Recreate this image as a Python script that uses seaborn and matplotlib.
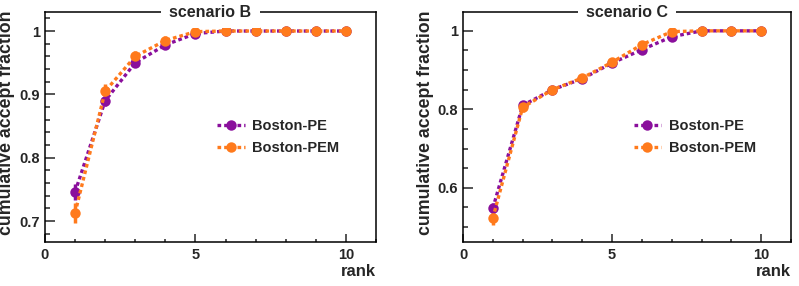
import numpy as np
import pandas as pd
import matplotlib
matplotlib.use('Agg')
import matplotlib.pyplot as plt
from matplotlib.ticker import MultipleLocator
import seaborn as sns

sns.set_style('white')
plt.rcParams['font.family'] = ['Liberation Sans', 'DejaVu Sans']
plt.rcParams['font.weight'] = 'bold'

rank = [1, 2, 3, 4, 5, 6, 7, 8, 9, 10]
series = ['Boston-PE', 'Boston-PEM']
colors = {'Boston-PE': '#8a0f9c', 'Boston-PEM': '#ff7a1c'}

# scenario B
b_pe = [0.746, 0.890, 0.950, 0.978, 0.996, 1.0, 1.0, 1.0, 1.0, 1.0]
b_pe_err = [0.013, 0.009, 0.007, 0.005, 0.003, 0, 0, 0, 0, 0]
b_pem = [0.713, 0.905, 0.960, 0.985, 0.999, 1.0, 1.0, 1.0, 1.0, 1.0]
b_pem_err = [0.016, 0.011, 0.009, 0.007, 0.002, 0, 0, 0, 0, 0]

# scenario C
c_pe = [0.548, 0.810, 0.850, 0.878, 0.918, 0.952, 0.985, 1.0, 1.0, 1.0]
c_pe_err = [0.014, 0.010, 0.008, 0.008, 0.009, 0.008, 0.005, 0, 0, 0]
c_pem = [0.523, 0.805, 0.850, 0.880, 0.920, 0.965, 0.998, 1.0, 1.0, 1.0]
c_pem_err = [0.017, 0.012, 0.009, 0.009, 0.011, 0.010, 0.003, 0, 0, 0]

panels = [
    ('scenario B', {'Boston-PE': (b_pe, b_pe_err), 'Boston-PEM': (b_pem, b_pem_err)},
     (0.667, 1.030), 0.1, 0.02, ['0.7', '0.8', '0.9', '1']),
    ('scenario C', {'Boston-PE': (c_pe, c_pe_err), 'Boston-PEM': (c_pem, c_pem_err)},
     (0.462, 1.048), 0.2, 0.05, ['0.6', '0.8', '1']),
]

fig = plt.figure(figsize=(7.99, 2.86), dpi=100)
axes = [fig.add_axes([0.0563, 0.154, 0.4143, 0.804]),
        fig.add_axes([0.5795, 0.154, 0.4105, 0.804])]

ls = (0, (1.1, 0.9))
for ax, (title, data, ylim, major, minor, ylabels) in zip(axes, panels):
    rows = []
    for s in series:
        for r, v in zip(rank, data[s][0]):
            rows.append({'rank': r, 'frac': v, 'series': s})
    df = pd.DataFrame(rows)
    for s in series:
        y, e = data[s]
        ax.errorbar(rank, y, yerr=e, fmt='none', ecolor=colors[s],
                    elinewidth=2.5, capsize=0, zorder=2)
    sns.lineplot(data=df, x='rank', y='frac', hue='series', palette=colors,
                 marker='o', markersize=7.5, markeredgewidth=0, lw=2.4,
                 linestyle=ls, ax=ax, zorder=3)

    ax.set_xlim(0, 11)
    ax.set_ylim(*ylim)
    ax.xaxis.set_major_locator(MultipleLocator(5))
    ax.xaxis.set_minor_locator(MultipleLocator(1))
    ax.yaxis.set_major_locator(MultipleLocator(major))
    ax.yaxis.set_minor_locator(MultipleLocator(minor))
    ticks = ax.get_yticks()
    ticks = [t for t in ticks if ylim[0] <= t <= ylim[1]]
    ax.set_yticks(ticks)
    ax.set_yticklabels(ylabels)
    ax.set_xticks([0, 5, 10])
    ax.set_xticklabels(['0', '5', '10'])
    ax.tick_params(axis='both', which='both', direction='in', left=True, bottom=True,
                   right=False, top=False, width=1.1, labelsize=10.5)
    ax.tick_params(axis='y', which='major', length=7)
    ax.tick_params(axis='y', which='minor', length=3.5)
    ax.tick_params(axis='x', which='major', length=5.5, pad=4)
    ax.tick_params(axis='x', which='minor', length=2.5)
    for sp in ax.spines.values():
        sp.set_linewidth(1.1)
        sp.set_color('black')

    ax.set_xlabel('rank', fontsize=12, fontweight='bold', loc='right', labelpad=2)
    ax.set_ylabel('cumulative accept fraction', fontsize=12.8, fontweight='bold')
    ax.yaxis.set_label_coords(-0.09, 0.52)

    ax.text(0.5, 1.0, title, transform=ax.transAxes, ha='center', va='center',
            fontsize=11.5, fontweight='bold',
            bbox=dict(facecolor='white', edgecolor='none', pad=6))

    handles, labels = ax.get_legend_handles_labels()
    ax.legend(handles, labels, loc='upper left', bbox_to_anchor=(0.48, 0.59),
              frameon=False, fontsize=10.5, handlelength=1.9, handletextpad=0.5,
              labelspacing=0.5)

fig.savefig('out.png', dpi=100)
